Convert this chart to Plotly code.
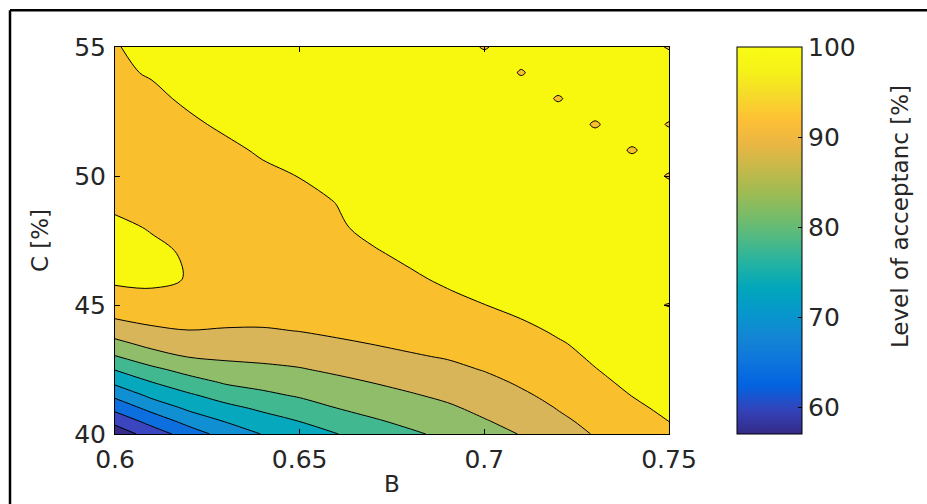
import plotly.graph_objects as go

# ---- data ----
B_values = [0.60, 0.61, 0.62, 0.63, 0.64, 0.65, 0.66, 0.67, 0.68, 0.69, 0.70, 0.71, 0.72, 0.73, 0.74, 0.75]
C_values = [40, 40.5, 41, 41.5, 42, 42.5, 43, 43.5, 44, 44.5, 45, 45.5, 46, 47, 48, 49, 50, 51, 52, 53, 54, 55]

z_c40_0 = [57.0, 62.2, 67.4, 72.0, 75.2, 77.3, 79.9, 82.0, 84.3, 86.0, 88.3, 90.2, 92.9, 95.3, 97.0, 98.6]
z_c40_5 = [61.4, 66.9, 71.8, 75.3, 77.9, 80.1, 82.4, 84.5, 86.1, 87.7, 89.7, 91.5, 94.1, 96.2, 97.9, 100.05]
z_c41_0 = [66.4, 71.6, 75.9, 78.6, 80.9, 82.8, 84.98, 86.5, 87.9, 89.3, 91.1, 92.9, 95.2, 97.0, 99.2, 100.85]
z_c41_5 = [71.1, 76.2, 79.3, 82.1, 84.0, 85.5, 87.0, 88.3, 89.6, 90.9, 92.5, 94.4, 96.1, 97.9, 100.09, 100.6]
z_c42_0 = [76.0, 79.9, 83.0, 85.5, 86.6, 87.6, 88.9, 90.1, 91.3, 92.5, 93.9, 95.5, 97.0, 99.57, 100.4, 100.5]
z_c42_5 = [80.2, 83.9, 86.7, 88.3, 89.0, 89.7, 90.8, 91.9, 93.0, 94.0, 95.2, 96.4, 97.9, 99.957, 100.5, 100.5]
z_c43_0 = [84.7, 88.0, 90.2, 90.8, 91.1, 91.6, 92.6, 93.6, 94.6, 95.3, 96.2, 97.3, 99.6, 100.196, 100.5, 100.5]
z_c43_5 = [88.7, 91.4, 92.5, 92.7, 92.8, 93.4, 94.4, 95.1, 95.8, 96.2, 97.1, 98.2, 99.83, 100.5, 100.5, 100.5]
z_c44_0 = [92.1, 94.2, 94.9, 94.6, 94.6, 95.1, 95.7, 95.9, 96.6, 97.1, 98.1, 99.56, 100.235, 100.5, 100.5, 100.5]
z_c44_5 = [95.2, 96.2, 96.6, 96.3, 96.1, 96.3, 96.6, 96.7, 97.5, 98.0, 99.0, 100.05, 100.5, 100.5, 100.5, 100.5]
z_c45_0 = [97.1, 97.9, 97.8, 97.5, 97.2, 97.2, 97.3, 97.4, 98.3, 98.9, 99.98, 100.3, 100.5, 100.5, 100.5, 99.93]
z_c45_5 = [99.0, 99.6, 99.2, 98.4, 98.0, 97.9, 97.9, 98.1, 99.0, 99.875, 100.47, 100.4, 100.5, 100.5, 100.5, 100.5]
z_c46_0 = [100.9, 100.9, 99.8, 98.9, 98.5, 98.4, 98.4, 98.8, 99.69, 100.32, 100.45, 100.5, 100.5, 100.5, 100.5, 100.5]
z_c47_0 = [101.2, 100.6, 99.7, 99.2, 98.9, 98.9, 98.8, 99.8, 100.425, 100.5, 100.5, 100.5, 100.5, 100.5, 100.5, 100.5]
z_c48_0 = [100.6, 99.8, 99.4, 99.2, 99.1, 99.2, 99.73, 100.52, 100.5, 100.5, 100.5, 100.5, 100.5, 100.5, 100.5, 100.5]
z_c49_0 = [99.4, 99.3, 99.1, 99.1, 99.2, 99.5, 100.04, 100.5, 100.5, 100.5, 100.5, 100.5, 100.5, 100.5, 100.5, 100.5]
z_c50_0 = [99.1, 99.1, 99.0, 99.2, 99.5, 100.05, 100.4, 100.5, 100.5, 100.5, 100.5, 100.5, 100.5, 100.5, 100.5, 99.93]
z_c51_0 = [99.0, 99.1, 99.2, 99.5, 100.3, 100.4, 100.5, 100.5, 100.5, 100.5, 100.5, 100.5, 100.5, 100.5, 99.92, 100.5]
z_c52_0 = [99.2, 99.3, 99.6, 100.4, 100.5, 100.5, 100.5, 100.5, 100.5, 100.5, 100.5, 100.5, 100.5, 99.92, 100.5, 99.94]
z_c53_0 = [99.4, 99.5, 100.4, 100.5, 100.5, 100.5, 100.5, 100.5, 100.5, 100.5, 100.5, 100.5, 99.93, 100.5, 100.5, 100.5]
z_c54_0 = [99.6, 100.2, 100.5, 100.5, 100.5, 100.5, 100.5, 100.5, 100.5, 100.5, 100.5, 99.94, 100.5, 100.5, 100.5, 100.5]
z_c55_0 = [99.9, 100.5, 100.5, 100.4, 100.4, 100.4, 100.4, 100.4, 100.4, 100.4, 99.94, 100.4, 100.4, 100.4, 100.4, 99.94]

acceptance = [z_c40_0, z_c40_5, z_c41_0, z_c41_5, z_c42_0, z_c42_5, z_c43_0, z_c43_5,
              z_c44_0, z_c44_5, z_c45_0, z_c45_5, z_c46_0, z_c47_0, z_c48_0, z_c49_0,
              z_c50_0, z_c51_0, z_c52_0, z_c53_0, z_c54_0, z_c55_0]

level_start, level_end, level_step = 60, 100, 5
cbar_min, cbar_max = 57.04, 100
x_tick_vals = [0.6, 0.65, 0.7, 0.75]
x_tick_text = ["0.6", "0.65", "0.7", "0.75"]
y_tick_vals = [40, 45, 50, 55]
cbar_tick_vals = [60, 70, 80, 90, 100]

# ---- styles ----
band_colors = ["#352A87", "#3A45BF", "#0D6FDE", "#1090D2", "#05A8BC",
               "#42B890", "#8FBD6A", "#D9B55A", "#FABF2C", "#F8F80F"]
band_scale = [[i / (len(band_colors) - 1), c] for i, c in enumerate(band_colors)]

parula_stops = ["#352A87", "#3243BA", "#0363E1", "#0D75DC", "#1385D4", "#0797CC",
                "#01A6BC", "#21B2A4", "#4CB986", "#77BC68", "#A0BB53", "#C6B94A",
                "#EAB643", "#FEC035", "#F6DA2A", "#F5F218", "#F9FB15"]
parula_scale = [[i / (len(parula_stops) - 1), c] for i, c in enumerate(parula_stops)]

FONT = "DejaVu Sans"
TICK_FS = 25
TITLE_FS = 23
TXT = "#262626"

# plot-area geometry (pixels) used for paper-coordinate placement
L, R, T, B = 115, 669, 47, 436
W_PLOT, H_PLOT = R - L, B - T


def px_x(p):
    return (p - L) / W_PLOT


def px_y(p):
    return (B - p) / H_PLOT


fig = go.Figure()

fig.add_trace(go.Contour(
    x=B_values, y=C_values, z=acceptance,
    autocontour=False,
    contours=dict(start=level_start, end=level_end, size=level_step,
                  coloring="fill", showlines=True),
    colorscale=band_scale,
    showscale=False,
    line=dict(color="black", width=1, smoothing=1),
    hoverinfo="skip",
))

# continuous colour bar (parula), drawn by an invisible helper trace
fig.add_trace(go.Scatter(
    x=[B_values[0], B_values[0]], y=[C_values[0], C_values[0]],
    mode="markers",
    marker=dict(size=1, opacity=0, color=[cbar_min, cbar_max],
                colorscale=parula_scale, cmin=cbar_min, cmax=cbar_max,
                showscale=True,
                colorbar=dict(
                    x=px_x(737), xanchor="left", xpad=0,
                    y=0.5, yanchor="middle", ypad=0,
                    len=1, lenmode="fraction",
                    thickness=65, thicknessmode="pixels",
                    outlinecolor="black", outlinewidth=1,
                    ticks="inside", ticklen=4, tickcolor="black",
                    tickvals=cbar_tick_vals, tickprefix="\u00a0",
                    tickfont=dict(family=FONT, size=TICK_FS, color=TXT),
                )),
    hoverinfo="skip", showlegend=False,
))

axis_common = dict(showline=True, linecolor="black", linewidth=1, mirror="ticks",
                   ticks="inside", ticklen=5, tickcolor="black",
                   showgrid=False, zeroline=False,
                   tickfont=dict(family=FONT, size=TICK_FS, color=TXT))

fig.update_layout(
    width=927, height=504,
    margin=dict(l=L, r=927 - R, t=T, b=504 - B),
    paper_bgcolor="white", plot_bgcolor="white",
    showlegend=False,
    xaxis=dict(range=[0.6, 0.75], tickvals=x_tick_vals, ticktext=x_tick_text,
               ticklabelstandoff=3,
               title=dict(text="B", font=dict(family=FONT, size=TITLE_FS, color=TXT), standoff=2),
               **axis_common),
    yaxis=dict(range=[40, 55], tickvals=y_tick_vals, ticklabelstandoff=3,
               title=dict(text="C [%]", font=dict(family=FONT, size=TITLE_FS, color=TXT), standoff=19),
               **axis_common),
    annotations=[dict(text="Level of acceptanc [%]", textangle=-90,
                      xref="paper", yref="paper", x=px_x(900), y=px_y(218),
                      xanchor="center", yanchor="middle", showarrow=False,
                      font=dict(family=FONT, size=TITLE_FS, color=TXT))],
    shapes=[
        dict(type="line", xref="paper", yref="paper",
             x0=px_x(10), x1=px_x(1000), y0=px_y(10), y1=px_y(10),
             line=dict(color="black", width=2.5)),
        dict(type="line", xref="paper", yref="paper",
             x0=px_x(10), x1=px_x(10), y0=px_y(10), y1=px_y(560),
             line=dict(color="black", width=2.5)),
    ],
)

fig.write_html("out.html")
